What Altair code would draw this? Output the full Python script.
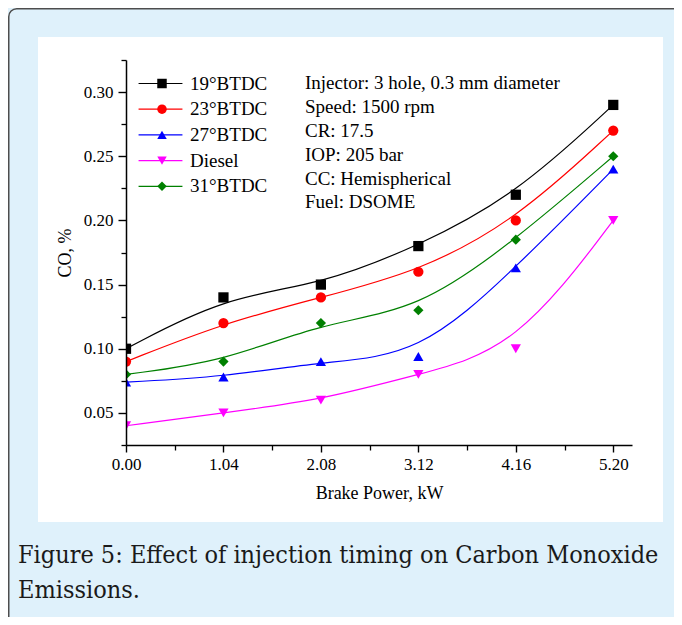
import altair as alt
import pandas as pd

# ---------------- data ----------------
bp = [0.00, 1.04, 2.08, 3.12, 4.16, 5.20]
series_names = ["19°BTDC", "23°BTDC", "27°BTDC", "Diesel", "31°BTDC"]
co_19 = [0.100, 0.140, 0.150, 0.180, 0.220, 0.290]
co_23 = [0.090, 0.120, 0.140, 0.160, 0.200, 0.270]
co_27 = [0.074, 0.078, 0.090, 0.094, 0.163, 0.240]
co_diesel = [0.040, 0.050, 0.060, 0.080, 0.100, 0.200]
co_31 = [0.080, 0.090, 0.120, 0.130, 0.185, 0.250]

colors = ["#000000", "#ff0000", "#0000ff", "#ff00ff", "#008000"]
shapes = ["square", "circle", "triangle-up", "triangle-down", "diamond"]

x_major = [0.00, 1.04, 2.08, 3.12, 4.16, 5.20]
x_minor = [0.52, 1.56, 2.60, 3.64, 4.68]
y_major = [0.05, 0.10, 0.15, 0.20, 0.25, 0.30]
y_minor = [0.025, 0.075, 0.125, 0.175, 0.225, 0.275, 0.325]

notes = [
    "Injector: 3 hole, 0.3 mm diameter",
    "Speed: 1500 rpm",
    "CR: 17.5",
    "IOP: 205 bar",
    "CC: Hemispherical",
    "Fuel: DSOME",
]
caption = ["Figure 5: Effect of injection timing on Carbon Monoxide", "Emissions."]

rows = []
for name, vals in zip(series_names, [co_19, co_23, co_27, co_diesel, co_31]):
    for x, y in zip(bp, vals):
        rows.append({"series": name, "bp": x, "co": y})
df = pd.DataFrame(rows)

SERIF = "Liberation Serif"
xs = alt.Scale(domain=[0, 5.4], nice=False, zero=False)
ys = alt.Scale(domain=[0.025, 0.325], nice=False, zero=False)

major_x = alt.Axis(values=x_major, format=".2f", orient="bottom", grid=False,
                   domainColor="black", domainWidth=1.5, tickColor="black",
                   tickWidth=1.4, tickSize=7, labelFont=SERIF, labelFontSize=17,
                   labelColor="black", labelPadding=4, labelFlush=False,
                   title="Brake Power, kW", titleFont=SERIF, titleFontSize=18,
                   titleFontWeight="normal", titleColor="black", titlePadding=12,
                   zindex=1)
major_y = alt.Axis(values=y_major, format=".2f", orient="left", grid=False,
                   domainColor="black", domainWidth=1.5, tickColor="black",
                   tickWidth=1.4, tickSize=8, labelFont=SERIF, labelFontSize=17,
                   labelColor="black", labelPadding=5, labelFlush=False,
                   title="CO, %", titleFont=SERIF, titleFontSize=18,
                   titleFontWeight="normal", titleColor="black", titlePadding=9,
                   zindex=1)
minor_x = alt.Axis(values=x_minor, orient="bottom", labels=False, domain=False,
                   grid=False, tickColor="black", tickWidth=1.3, tickSize=5,
                   title=None, zindex=1)
minor_y = alt.Axis(values=y_minor, orient="left", labels=False, domain=False,
                   grid=False, tickColor="black", tickWidth=1.3, tickSize=5,
                   title=None, zindex=1)

# white inner panel and outer rounded frame (decoration)
one = alt.Data(values=[{"k": 1}])
panel = alt.Chart(one).mark_rect(fill="white").encode(
    x=alt.value(-88), x2=alt.value(537), y=alt.value(-23), y2=alt.value(462))
frame = alt.Chart(one).mark_rect(fill="#dff1fb", fillOpacity=0, stroke="#4d4d4d",
                                 strokeWidth=1.5, cornerRadius=8).encode(
    x=alt.value(-117.25), x2=alt.value(720), y=alt.value(-51.25), y2=alt.value(720))

minor_layer = alt.Chart(df).mark_point(opacity=0).encode(
    x=alt.X("bp:Q", scale=xs, axis=minor_x),
    y=alt.Y("co:Q", scale=ys, axis=minor_y))

# legend line symbol: long horizontal stroke drawn from a compact symbol size
line_legend = alt.Legend(orient="top-left", offset=13, padding=1, symbolOffset=11,
                         symbolType="M-5,0H5", symbolSize=77, symbolStrokeWidth=1.2,
                         labelFont=SERIF, labelFontSize=19, labelColor="black",
                         labelOffset=20, rowPadding=5.7, labelLimit=300)
lines = alt.Chart(df).mark_line(interpolate="basis", strokeWidth=1.2, clip=True).encode(
    x=alt.X("bp:Q", scale=xs, axis=major_x),
    y=alt.Y("co:Q", scale=ys, axis=major_y),
    stroke=alt.Stroke("series:N", sort=series_names, scale=alt.Scale(range=colors),
                      title=None, legend=line_legend))

# marker legend sits on top of the line legend (its own labels are blank)
mark_legend = alt.Legend(orient="none", legendX=26.5, legendY=14, padding=0,
                         symbolSize=90, symbolStrokeWidth=0, labelFont=SERIF,
                         labelFontSize=19, labelExpr="' '", labelOffset=7,
                         rowPadding=5.7)
points = alt.Chart(df).mark_point(filled=True, size=105, opacity=1, clip=True).encode(
    x=alt.X("bp:Q", scale=xs, axis=None),
    y=alt.Y("co:Q", scale=ys, axis=None),
    color=alt.Color("series:N", scale=alt.Scale(domain=series_names, range=colors),
                    title=None, legend=mark_legend),
    shape=alt.Shape("series:N", scale=alt.Scale(domain=series_names, range=shapes),
                    title=None, legend=mark_legend))

note_text = alt.Chart(one).mark_text(align="left", baseline="alphabetic", font=SERIF,
                                     fontSize=19, lineHeight=23.8, color="black").encode(
    x=alt.value(179), y=alt.value(29.4), text=alt.value(notes))

caption_text = alt.Chart(one).mark_text(align="left", baseline="alphabetic",
                                        font="DejaVu Serif Condensed", fontSize=25,
                                        lineHeight=35, color="#1a1a1a").encode(
    x=alt.value(-108), y=alt.value(503), text=alt.value(caption))

chart = alt.layer(panel, frame, minor_layer, lines, points, note_text, caption_text).resolve_axis(
    x="independent", y="independent"
).properties(
    width=506, height=385,
    background="#dff1fb",
    padding={"left": 118, "top": 52, "right": 42, "bottom": 172},
    autosize=alt.AutoSizeParams(type="none"),
).configure_view(strokeWidth=0)

chart.save("out.html", embed_options={"renderer": "svg", "actions": False})
